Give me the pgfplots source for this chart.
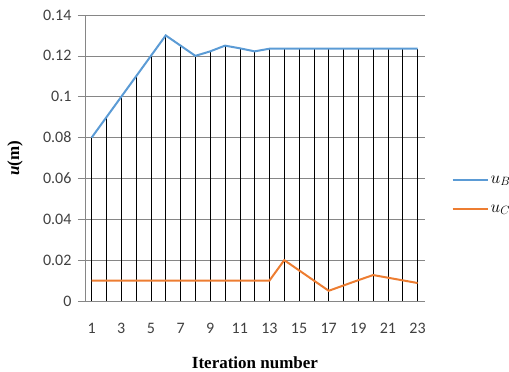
\documentclass[border=0pt]{standalone}
\usepackage{pgfplots}
\pgfplotsset{compat=1.18}
\usepackage{fontspec}
\setmainfont{Liberation Serif}
\newfontfamily\calibri{Carlito}
\definecolor{exblue}{RGB}{91,155,213}
\definecolor{exorange}{RGB}{237,125,49}
\definecolor{gridgray}{RGB}{134,134,134}
\begin{document}
\begin{tikzpicture}
\useasboundingbox (0,0) rectangle (509pt,372pt);
\begin{axis}[
  at={(85pt,71pt)}, anchor=south west,
  scale only axis, width=340pt, height=286pt,
  xmin=0.55, xmax=23.5, ymin=0, ymax=0.14,
  xtick={1,3,...,23},
  ytick={0,0.02,...,0.14},
  yticklabels={0,0.02,0.04,0.06,0.08,0.1,0.12,0.14},
  axis x line*=bottom, axis y line*=left,
  axis line style={gridgray, line width=0.6pt, -},
  x axis line style={-}, y axis line style={-},
  ymajorgrids, grid style={gridgray, line width=0.6pt},
  xtick style={draw=none},
  ytick style={gridgray, line width=0.6pt},
  tick align=outside, major tick length=7pt,
  ticklabel style={font=\calibri\fontsize{16}{17}\selectfont, text=black!75},
  /pgf/number format/assume math mode=true,
  yticklabel style={xshift=-3pt},
  xticklabel style={yshift=-12pt},
  xlabel={\textbf{Iteration number}},
  xlabel style={font=\fontsize{17}{18}\selectfont, at={(axis description cs:0.5,-0.217)}, anchor=center},
  ylabel={\textbf{\textit{u}(m)}},
  ylabel style={font=\fontsize{17}{18}\selectfont, at={(axis description cs:-0.206,0.5)}, anchor=center, rotate=0},
  legend style={draw=none, fill=none, at={(axis description cs:1.078,0.445)}, anchor=north west,
    font=\fontsize{18}{19}\selectfont, row sep=16pt, inner sep=0pt},
  legend cell align=left,
  legend image code/.code={\draw[#1] (0pt,0pt) -- (35pt,0pt);},
  clip=false,
]
\addplot[ycomb, black, line width=0.6pt, no marks, forget plot] coordinates {
(1,0.08) (2,0.09) (3,0.10) (4,0.11) (5,0.12) (6,0.13) (7,0.125) (8,0.12)
(9,0.1222) (10,0.125) (11,0.1237) (12,0.1222) (13,0.1235) (14,0.1235)
(15,0.1235) (16,0.1235) (17,0.1235) (18,0.1235) (19,0.1235) (20,0.1235)
(21,0.1235) (22,0.1235) (23,0.1235)};
\addplot[exblue, line width=2pt, no marks] coordinates {
(1,0.08) (2,0.09) (3,0.10) (4,0.11) (5,0.12) (6,0.13) (7,0.125) (8,0.12)
(9,0.1222) (10,0.125) (11,0.1237) (12,0.1222) (13,0.1235) (14,0.1235)
(15,0.1235) (16,0.1235) (17,0.1235) (18,0.1235) (19,0.1235) (20,0.1235)
(21,0.1235) (22,0.1235) (23,0.1235)};
\addlegendentry{$u_B$}
\addplot[exorange, line width=2pt, no marks] coordinates {
(1,0.01) (2,0.01) (3,0.01) (4,0.01) (5,0.01) (6,0.01) (7,0.01) (8,0.01)
(9,0.01) (10,0.01) (11,0.01) (12,0.01) (13,0.01) (14,0.02) (15,0.015)
(16,0.01) (17,0.005) (18,0.0076) (19,0.0102) (20,0.0127) (21,0.0114)
(22,0.0101) (23,0.0088)};
\addlegendentry{$u_C$}
\end{axis}
\end{tikzpicture}
\end{document}
